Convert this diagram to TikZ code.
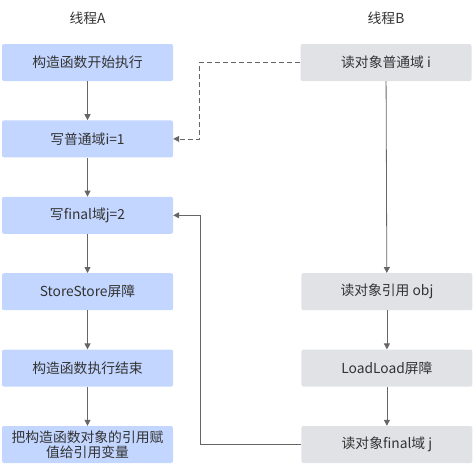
\documentclass[tikz,border=0pt]{standalone}
\usepackage{fontspec}
\setmainfont{Noto Sans CJK SC}
\usepackage{tikz}
\usetikzlibrary{positioning,arrows.meta}
\definecolor{ThBlue}{HTML}{C3D6FF}
\definecolor{ThGrey}{HTML}{E1E2E6}
\definecolor{ThText}{HTML}{333333}
\definecolor{ThLine}{HTML}{666666}

\begin{document}
\begin{tikzpicture}[
  x=1pt, y=1pt,
  node distance=39pt and 128pt,
  box/.style={fill=ThBlue, draw=none, rounded corners=2pt, minimum height=37pt, minimum width=171pt, align=center, text=ThText, font=\fontsize{13.8}{16}\selectfont, inner sep=2pt},
  greybox/.style={box, fill=ThGrey},
  title/.style={text=ThText, font=\fontsize{13.8}{16}\selectfont},
  arrow/.style={-{Triangle[length=6pt,width=6pt]}, ThLine, line width=0.8pt},
  dasharrow/.style={arrow, dash pattern=on 5pt off 3pt}
]
\useasboundingbox (0,0) rectangle (473,-463);
\node[title] (ta) at (87.5,-18) {线程A};
\node[title] (tb) at (386,-18) {线程B};
\node[box] (a1) at (87.5,-62.5) {构造函数开始执行};
\node[box, below=of a1] (a2) {写普通域i=1};
\node[box, below=of a2] (a3) {写final域j=2};
\node[box, below=of a3] (a4) {StoreStore屏障};
\node[box, below=of a4] (a5) {构造函数执行结束};
\node[box, below=of a5] (a6) {把构造函数对象的引用赋\\[-1pt]值给引用变量};
\node[greybox] (b1) at (386,-62.5) {读对象普通域 i};
\node[greybox, right=of a4] (b2) {读对象引用 obj};
\node[greybox, below=of b2] (b3) {LoadLoad屏障};
\node[greybox, below=of b3] (b4) {读对象final域 j};
\draw[arrow] (a1) -- (a2);
\draw[arrow] (a2) -- (a3);
\draw[arrow] (a3) -- (a4);
\draw[arrow] (a4) -- (a5);
\draw[arrow] (a5) -- (a6);
\draw[arrow] (b1) -- (b2);
\draw[arrow] (b2) -- (b3);
\draw[arrow] (b3) -- (b4);
\draw[dasharrow] (b1.west) -- ++(-101,0) |- (a2.east);
\draw[arrow] (b4.west) -- ++(-101,0) |- (a3.east);
\end{tikzpicture}
\end{document}
